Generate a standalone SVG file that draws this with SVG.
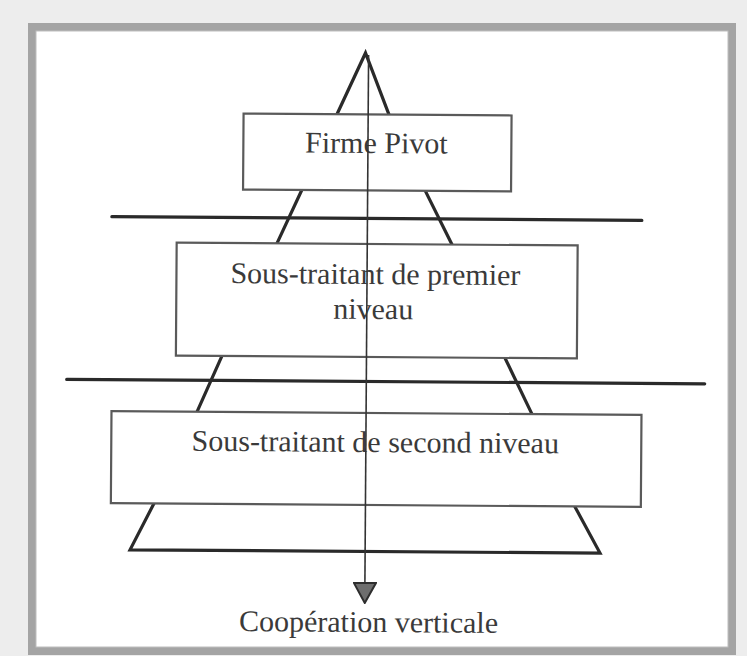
<svg xmlns="http://www.w3.org/2000/svg" width="747" height="656" viewBox="0 0 747 656">
  <style>
    .box { fill: #ffffff; stroke: #5a5a5a; stroke-width: 2.2; }
    .leg { stroke: #2a2a2a; stroke-width: 3.2; stroke-linecap: round; fill: none; }
    .axis { stroke: #333333; stroke-width: 1.6; fill: none; }
    .lbl { font-family: "Liberation Serif", "Times New Roman", serif; font-size: 30px; fill: #3a3a3a; text-anchor: middle; }
  </style>
  <defs>
    <marker id="arrow" markerUnits="userSpaceOnUse" markerWidth="22" markerHeight="24" viewBox="0 0 22 24" refX="21" refY="12" orient="auto">
      <path d="M1,1 L1,23 L21,12 Z" fill="#6e6e6e" stroke="#2e2e2e" stroke-width="2"/>
    </marker>
  </defs>

  <!-- page background and frame -->
  <rect x="0" y="0" width="747" height="656" fill="#ededed"/>
  <rect x="32" y="27" width="700" height="624" fill="#ffffff" stroke="#a4a4a4" stroke-width="8"/>
  <rect x="36" y="31" width="692" height="616" fill="none" stroke="#bdbdbd" stroke-width="1"/>

  <g transform="rotate(0.4 370 340)">
    <!-- pyramid shapes -->
    <g id="pyramid">
      <line class="leg" x1="111" y1="218.5" x2="641" y2="218.5"/>
      <line class="leg" x1="67" y1="381.5" x2="705" y2="381.5"/>
      <polyline class="leg" points="335.4,114.5 363.5,53 387.4,114.5"/>
      <line class="leg" x1="301" y1="190" x2="276.3" y2="244"/>
      <line class="leg" x1="424" y1="190" x2="451.3" y2="244"/>
      <line class="leg" x1="222.1" y1="357" x2="197.5" y2="413"/>
      <line class="leg" x1="505.1" y1="357" x2="532.5" y2="413"/>
      <polyline class="leg" points="155.1,505 131.5,551.5 601.5,551.5 576.2,505.5"/>
    </g>

    <g id="node-firme-pivot">
      <rect class="box" x="242" y="114.5" width="268" height="76"/>
      <text class="lbl" x="375" y="153">Firme Pivot</text>
    </g>

    <g id="node-premier-niveau">
      <rect class="box" x="176" y="244" width="401" height="113"/>
      <text class="lbl" x="375" y="284">Sous-traitant de premier</text>
      <text class="lbl" x="373" y="319">niveau</text>
    </g>

    <g id="node-second-niveau">
      <rect class="box" x="112" y="413" width="530" height="92"/>
      <text class="lbl" x="376" y="452">Sous-traitant de second niveau</text>
    </g>

    <g id="connectors">
      <line class="axis" x1="366.6" y1="55" x2="366.6" y2="603" marker-end="url(#arrow)"/>
    </g>

    <g id="node-cooperation">
      <text class="lbl" x="370.5" y="632">Coopération verticale</text>
    </g>
  </g>
</svg>
